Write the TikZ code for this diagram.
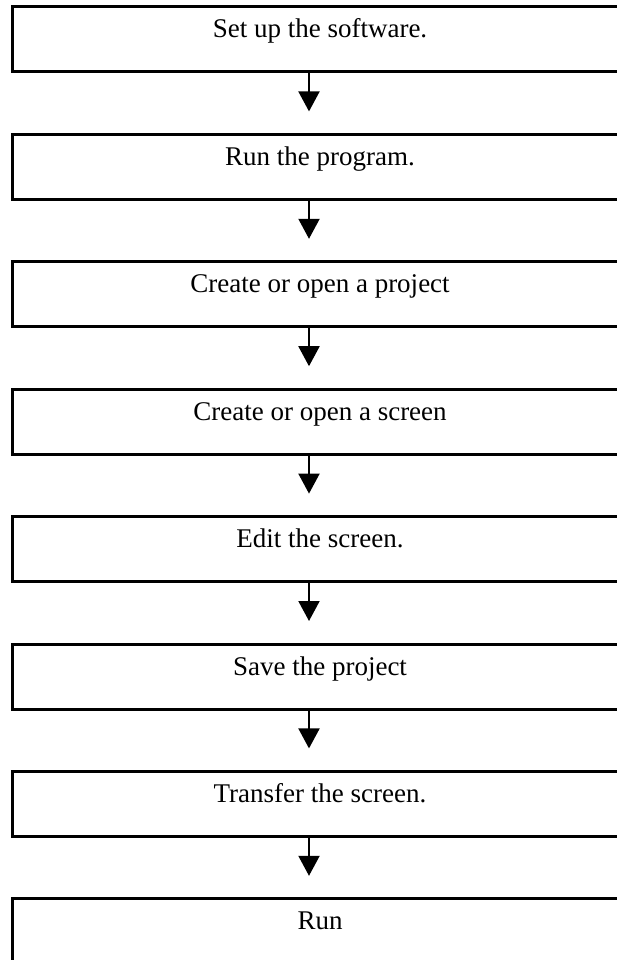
\documentclass[tikz,border=0pt]{standalone}
\usepackage{fontspec}
\setmainfont{Liberation Serif}
\usepackage{tikz}
\usetikzlibrary{arrows.meta, positioning}
\tikzset{every node/.append style={align=center}}
\tikzset{
  stage/.style={rectangle, draw=black, line width=3pt, inner sep=0pt, outer sep=0pt,
    minimum width=616pt, text height=31pt, text depth=34pt,
    font=\fontsize{27}{32}\selectfont},
  arrow/.style={-{Triangle[length=20pt, width=21pt]}, line width=2pt, black,
    shorten >=23pt}
}

\begin{document}
\begin{tikzpicture}[x=1pt, y=-1pt, node distance=62.4pt]
  \useasboundingbox (0,0) rectangle (616,960);
  \node[stage, anchor=north] (setup) at (320,7) {Set up the software.};
  \node[stage, below=of setup] (runprog) {Run the program.};
  \node[stage, below=of runprog] (project) {Create or open a project};
  \node[stage, below=of project] (screen) {Create or open a screen};
  \node[stage, below=of screen] (edit) {Edit the screen.};
  \node[stage, below=of edit] (save) {Save the project};
  \node[stage, below=of save] (transfer) {Transfer the screen.};
  \node[stage, below=of transfer] (run) {Run};
  \coordinate (ax) at (309,0);
  \draw[arrow] (setup.south -| ax) -- (runprog.north -| ax);
  \draw[arrow] (runprog.south -| ax) -- (project.north -| ax);
  \draw[arrow] (project.south -| ax) -- (screen.north -| ax);
  \draw[arrow] (screen.south -| ax) -- (edit.north -| ax);
  \draw[arrow] (edit.south -| ax) -- (save.north -| ax);
  \draw[arrow] (save.south -| ax) -- (transfer.north -| ax);
  \draw[arrow] (transfer.south -| ax) -- (run.north -| ax);
\end{tikzpicture}
\end{document}
